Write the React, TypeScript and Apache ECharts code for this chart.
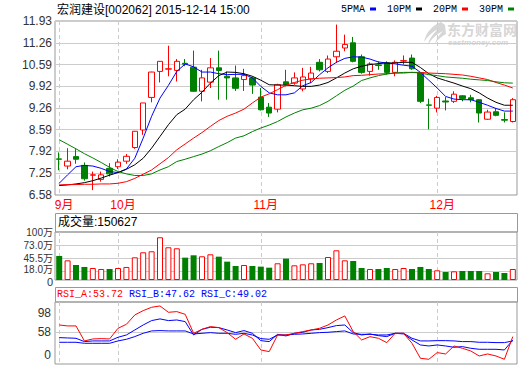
import React, { useEffect, useRef } from 'react';
import * as echarts from 'echarts';

const dates = [
  '2015-09-22', '2015-09-23', '2015-09-24', '2015-09-25', '2015-09-28', '2015-09-29', '2015-09-30',
  '2015-10-08', '2015-10-09', '2015-10-12', '2015-10-13', '2015-10-14', '2015-10-15', '2015-10-16',
  '2015-10-19', '2015-10-20', '2015-10-21', '2015-10-22', '2015-10-23', '2015-10-26', '2015-10-27',
  '2015-10-28', '2015-10-29', '2015-10-30',
  '2015-11-02', '2015-11-03', '2015-11-04', '2015-11-05', '2015-11-06', '2015-11-09', '2015-11-10',
  '2015-11-11', '2015-11-12', '2015-11-13', '2015-11-16', '2015-11-17', '2015-11-18', '2015-11-19',
  '2015-11-20', '2015-11-23', '2015-11-24', '2015-11-25', '2015-11-26', '2015-11-27', '2015-11-30',
  '2015-12-01', '2015-12-02', '2015-12-03', '2015-12-04', '2015-12-07', '2015-12-08', '2015-12-09',
  '2015-12-10', '2015-12-11', '2015-12-14',
];

const opens = [
  7.69, 7.47, 7.76, 7.49, 7.19, 7.06, 7.40, 7.45, 7.62, 8.04, 8.58, 9.58, 10.38, 10.45, 10.41,
  10.63, 10.51, 9.77, 10.05, 10.49, 10.23, 10.18, 10.13, 10.18, 9.59, 9.28, 9.22, 10.06, 10.02, 9.84,
  10.15, 10.66, 10.38, 10.83, 11.10, 11.26, 10.83, 10.38, 10.58, 10.64, 10.35, 10.70, 10.79, 10.33, 9.35,
  9.25, 9.47, 9.46, 9.63, 9.57, 9.51, 8.91, 9.14, 8.90, 8.84,
];
const closes = [
  7.68, 7.62, 7.68, 7.08, 7.20, 7.20, 7.23, 7.59, 7.77, 8.54, 9.41, 10.36, 10.69, 10.46, 10.69,
  10.60, 9.77, 10.18, 10.49, 10.41, 10.18, 9.86, 10.25, 9.96, 9.20, 9.10, 9.97, 9.97, 10.18, 10.21,
  10.33, 10.43, 10.76, 11.00, 11.21, 10.69, 10.35, 10.61, 10.56, 10.35, 10.66, 10.71, 10.46, 9.46, 9.34,
  9.58, 9.44, 9.68, 9.55, 9.51, 9.10, 9.13, 9.03, 8.88, 9.51,
];
const lows = [
  7.34, 7.37, 7.54, 7.02, 6.73, 6.99, 7.15, 7.38, 7.54, 8.00, 8.43, 9.43, 10.04, 10.23, 10.07,
  10.54, 9.76, 9.46, 9.87, 9.51, 9.51, 9.78, 9.78, 9.69, 9.18, 8.98, 9.12, 9.92, 9.97, 9.77,
  10.02, 10.38, 10.33, 10.64, 11.00, 10.66, 10.31, 10.25, 10.43, 10.28, 10.23, 10.59, 10.43, 9.41, 8.60,
  9.12, 9.18, 9.41, 9.46, 9.43, 8.81, 8.89, 9.00, 8.81, 8.81,
];
const highs = [
  7.89, 8.02, 7.99, 7.58, 7.30, 7.30, 7.56, 7.68, 7.84, 8.55, 9.41, 10.37, 10.70, 11.17, 10.76,
  10.76, 11.02, 10.43, 10.79, 11.02, 10.38, 10.56, 10.46, 10.23, 9.87, 9.41, 10.00, 10.43, 10.35, 10.49,
  10.52, 10.76, 10.87, 11.82, 11.51, 11.44, 10.90, 10.66, 10.69, 10.69, 10.72, 10.87, 10.90, 10.33, 9.54,
  9.63, 9.59, 9.77, 9.65, 9.66, 9.53, 9.20, 9.25, 9.12, 9.56,
];

// volume in 万
const volumes = [
  51.1, 41.8, 31.9, 27.7, 25.5, 23.4, 23.4, 25.5, 27.7, 48.2, 58.9, 61.0, 90.8, 69.5, 67.4,
  47.5, 52.5, 50.4, 54.6, 49.6, 39.0, 29.8, 31.9, 29.8, 28.4, 26.2, 35.5, 45.4, 31.2, 33.3,
  35.5, 36.2, 48.9, 63.1, 41.8, 40.4, 25.5, 23.4, 23.4, 25.5, 23.4, 25.5, 23.4, 27.7, 23.4,
  20.6, 17.0, 18.4, 19.1, 19.1, 19.1, 14.2, 17.0, 14.9, 23.4,
];

const ma5 = [
  6.94, 7.20, 7.45, 7.49, 7.47, 7.40, 7.30, 7.27, 7.38, 7.71, 8.33, 9.00, 9.56, 9.95, 10.38,
  10.61, 10.52, 10.36, 10.36, 10.31, 10.28, 10.29, 10.29, 10.18, 9.92, 9.72, 9.66, 9.66, 9.72, 9.94,
  10.04, 10.28, 10.49, 10.66, 10.78, 10.83, 10.82, 10.76, 10.67, 10.64, 10.61, 10.57, 10.54, 10.35, 10.11,
  9.87, 9.61, 9.53, 9.51, 9.51, 9.43, 9.34, 9.24, 9.16, 9.16,
];
const ma10 = [
  6.87, 6.89, 6.92, 6.96, 7.02, 7.10, 7.19, 7.27, 7.37, 7.51, 7.71, 8.02, 8.38, 8.74, 9.05,
  9.22, 9.51, 9.74, 10.02, 10.25, 10.36, 10.35, 10.31, 10.23, 10.11, 9.97, 9.96, 9.96, 9.94, 9.92,
  9.92, 9.96, 10.04, 10.18, 10.33, 10.46, 10.54, 10.59, 10.62, 10.64, 10.64, 10.66, 10.66, 10.50, 10.31,
  10.18, 10.10, 10.02, 9.93, 9.85, 9.72, 9.56, 9.43, 9.34, 9.34,
];
const ma20 = [
  6.89, 6.90, 6.90, 6.91, 6.91, 6.92, 6.92, 6.94, 6.99, 7.09, 7.22, 7.35, 7.54, 7.73, 7.97,
  8.15, 8.33, 8.50, 8.69, 8.87, 9.00, 9.10, 9.22, 9.41, 9.59, 9.69, 9.82, 9.95, 10.04, 10.11,
  10.15, 10.17, 10.18, 10.19, 10.21, 10.25, 10.26, 10.28, 10.30, 10.31, 10.33, 10.33, 10.35, 10.35, 10.33,
  10.32, 10.31, 10.29, 10.27, 10.23, 10.18, 10.13, 10.04, 9.96, 9.87,
];
const ma30 = [
  8.28, 8.14, 8.00, 7.85, 7.72, 7.58, 7.43, 7.30, 7.23, 7.18, 7.18, 7.23, 7.35, 7.45, 7.61,
  7.68, 7.76, 7.84, 7.94, 8.07, 8.19, 8.33, 8.40, 8.53, 8.64, 8.73, 8.84, 8.98, 9.10, 9.20,
  9.25, 9.33, 9.46, 9.63, 9.80, 9.93, 10.10, 10.18, 10.25, 10.30, 10.33, 10.35, 10.35, 10.33, 10.28,
  10.25, 10.21, 10.19, 10.17, 10.14, 10.12, 10.10, 10.06, 10.03, 10.02,
];

const rsiA = [
  73.2, 71.2, 71.2, 40.0, 44.1, 44.8, 44.1, 66.3, 74.6, 94.0, 103.1, 110.0, 112.8, 99.6, 101.0,
  95.4, 55.9, 64.2, 69.8, 67.7, 57.3, 43.4, 54.5, 45.5, 21.2, 17.8, 52.4, 52.4, 55.9, 59.4,
  62.8, 66.3, 73.2, 83.6, 92.0, 59.4, 42.0, 48.9, 45.5, 36.5, 55.9, 55.9, 35.1, 3.9, 1.8,
  15.7, 12.9, 29.5, 24.7, 19.1, 8.7, 12.9, 8.7, 1.8, 49.0,
];
const rsiB = [
  46.9, 46.2, 45.5, 38.6, 40.0, 40.0, 40.0, 47.6, 52.4, 62.8, 73.2, 82.3, 85.8, 82.3, 83.6,
  80.2, 52.4, 64.2, 68.4, 67.7, 62.8, 57.3, 61.5, 55.9, 40.6, 38.6, 53.8, 50.4, 55.9, 58.0,
  62.8, 64.2, 67.7, 71.9, 73.2, 57.3, 52.4, 54.5, 51.0, 49.0, 55.9, 54.5, 42.0, 31.6, 29.5,
  31.6, 29.5, 26.8, 28.2, 24.7, 22.6, 22.6, 22.6, 21.2, 42.0,
];
const rsiC = [
  37.2, 37.2, 37.2, 35.1, 35.1, 35.1, 35.1, 40.0, 43.4, 49.0, 55.9, 60.8, 61.5, 60.8, 60.8,
  60.8, 54.5, 55.9, 57.3, 55.9, 55.9, 53.8, 55.9, 52.4, 44.8, 43.4, 52.4, 52.4, 53.8, 54.5,
  55.9, 57.3, 58.0, 59.4, 60.8, 54.5, 53.8, 53.8, 52.4, 52.4, 55.9, 55.9, 45.5, 40.0, 40.0,
  40.6, 40.6, 40.0, 38.6, 38.6, 37.2, 37.2, 36.5, 36.5, 40.0,
];

const priceTicks = [6.58, 7.25, 7.92, 8.59, 9.26, 9.92, 10.59, 11.26, 11.93];
const volumeTicks = [18, 45.5, 73, 100];
const volumeZeroTick = [0];
const volumeGridTicks = [18, 45.5, 73];
const rsiTicks = [0, 58, 98];
const rsiGridTicks = [58];

const maNames = ['5PMA', '10PM', '20PM', '30PM'];
const maColors = ['#0000ff', '#000000', '#ff0000', '#008000'];
const maSeries = [ma5, ma10, ma20, ma30];

const titleText = '宏润建设[002062] 2015-12-14 15:00';
const volumeTitle = '成交量:150627';
const rsiTitles = ['RSI_A:53.72', 'RSI_B:47.62', 'RSI_C:49.02'];

const FONT = "'Liberation Sans', 'Noto Sans CJK SC', sans-serif";
const NARROW = "'Liberation Sans Narrow', 'Liberation Sans', 'Noto Sans CJK SC', sans-serif";
const MONO = "'Liberation Mono', 'DejaVu Sans Mono', monospace";
const RED = '#ff0000';
const GREEN = '#008000';
const FRAME = '#999999';
const GRIDLINE = '#cccccc';
const WATERMARK = '#d6d6d6';

const monthStarts = dates
  .map((d, i) => (i === 0 || d.slice(5, 7) !== dates[i - 1].slice(5, 7) ? i : -1))
  .filter((i) => i >= 0);

const GL = 55;
const GW = 462;
const VOL_MAX = 102;

// decorative swoosh of the watermark logo
echarts.graphic.registerShape(
  'emLogo',
  echarts.graphic.extendPath(
    'M18 0 C10 3 3 10 1 20 C5 14 9 10 15 7 C10 12 6 17 5 23 C9 16 14 12 20 9 C16 13 13 17 12 22 C15 17 19 14 23 12 L22 3 Z',
    {}
  ) as any
);

export default function App() {
  const ref = useRef<HTMLDivElement>(null);

  useEffect(() => {
    if (!ref.current) return;
    const chart = echarts.init(ref.current, null, { renderer: 'svg' });

    const isMonth = (idx: number) => monthStarts.includes(idx);
    const dashed = {
      show: true,
      interval: isMonth,
      alignWithLabel: true,
      lineStyle: { color: GRIDLINE, type: [4, 3] as any, width: 1 },
    };

    const xAxes = [0, 1, 2].map((g) => ({
      type: 'category',
      gridIndex: g,
      data: dates,
      boundaryGap: true,
      axisLine: { show: false },
      axisTick: { show: false },
      axisLabel:
        g === 0
          ? {
              show: true,
              interval: isMonth,
              formatter: (v: string) => `${parseInt(v.slice(5, 7), 10)}月`,
              color: RED,
              fontSize: 12,
              fontFamily: FONT,
              margin: 4,
              padding: [0, 0, 0, 10],
            }
          : { show: false },
      splitLine: dashed,
    }));

    const candleData = dates.map((_, i) => [opens[i], closes[i], lows[i], highs[i]]);
    const volData = volumes.map((v, i) => {
      const up = closes[i] >= opens[i];
      return {
        value: v,
        itemStyle: up
          ? { color: '#ffffff', borderColor: RED, borderWidth: 1 }
          : { color: GREEN, borderColor: GREEN, borderWidth: 0 },
      };
    });

    const volText = { color: '#333', fontSize: 10, fontFamily: NARROW };
    const volLabel = {
      ...volText,
      margin: 2,
      hideOverlap: false,
      showMinLabel: true,
      showMaxLabel: true,
    };

    const option: any = {
      animation: false,
      backgroundColor: '#ffffff',
      textStyle: { fontFamily: FONT },
      legend: {
        data: maNames,
        right: 6,
        top: 4,
        padding: 0,
        align: 'right',
        icon: 'rect',
        itemWidth: 6,
        itemHeight: 3,
        itemGap: 11,
        selectedMode: false,
        textStyle: { fontFamily: MONO, fontSize: 10, color: '#000' },
      },
      grid: [
        { left: GL, top: 21, width: GW, height: 174, show: true, borderColor: FRAME, borderWidth: 1 },
        { left: GL, top: 232, width: GW, height: 48, show: true, borderColor: FRAME, borderWidth: 1 },
        { left: GL, top: 302, width: GW, height: 62, show: true, borderColor: FRAME, borderWidth: 1 },
      ],
      xAxis: xAxes,
      yAxis: [
        {
          type: 'value',
          gridIndex: 0,
          min: 6.58,
          max: 11.93,
          axisLine: { show: false },
          axisTick: { show: false, customValues: priceTicks },
          axisLabel: {
            customValues: priceTicks,
            formatter: (v: number) => v.toFixed(2),
            color: '#333',
            fontSize: 12,
            fontFamily: FONT,
            margin: 3,
            hideOverlap: false,
            showMinLabel: true,
            showMaxLabel: true,
          },
          splitLine: { show: true, lineStyle: { color: GRIDLINE, width: 1 } },
        },
        {
          type: 'value',
          gridIndex: 1,
          min: 0,
          max: VOL_MAX,
          axisLine: { show: false },
          axisTick: { show: false, customValues: volumeGridTicks },
          axisLabel: {
            ...volLabel,
            customValues: volumeTicks,
            formatter: (v: number) =>
              v === 100 ? '100万' : v === 18 ? `{u|${v.toFixed(1)}万}` : `${v.toFixed(1)}万`,
            rich: { u: { ...volText, padding: [0, 0, 5, 0] } },
          },
          splitLine: { show: true, lineStyle: { color: GRIDLINE, width: 1 } },
        },
        {
          type: 'value',
          gridIndex: 2,
          min: -8,
          max: 121,
          axisLine: { show: false },
          axisTick: { show: false, customValues: rsiGridTicks },
          axisLabel: {
            customValues: rsiTicks,
            formatter: (v: number) => (v === 0 ? '{z|0}' : String(v)),
            rich: { z: { padding: [0, 0, 10, 0], fontSize: 12, color: '#333', fontFamily: FONT } },
            color: '#333',
            fontSize: 12,
            fontFamily: FONT,
            margin: 4,
            hideOverlap: false,
            showMinLabel: true,
            showMaxLabel: true,
          },
          splitLine: { show: true, lineStyle: { color: GRIDLINE, width: 1 } },
        },
        {
          // zero label of the volume panel, on its own so it is not culled
          type: 'value',
          gridIndex: 1,
          min: 0,
          max: VOL_MAX,
          position: 'left',
          axisLine: { show: false },
          axisTick: { show: false, customValues: volumeZeroTick },
          axisLabel: {
            ...volLabel,
            fontSize: 11,
            customValues: volumeZeroTick,
            formatter: () => '{d|0}',
            rich: { d: { ...volText, fontSize: 11, padding: [3, 0, 0, 0] } },
          },
          splitLine: { show: false },
        },
      ],
      series: [
        {
          type: 'candlestick',
          name: 'K',
          xAxisIndex: 0,
          yAxisIndex: 0,
          data: candleData,
          barWidth: 6,
          itemStyle: {
            color: '#ffffff',
            color0: GREEN,
            borderColor: RED,
            borderColor0: GREEN,
            borderWidth: 1,
          },
        },
        ...maSeries.map((d, k) => ({
          type: 'line',
          name: maNames[k],
          xAxisIndex: 0,
          yAxisIndex: 0,
          data: d,
          showSymbol: false,
          symbol: 'none',
          color: maColors[k],
          lineStyle: { color: maColors[k], width: 1 },
          itemStyle: { color: maColors[k] },
          z: 3,
        })),
        {
          type: 'bar',
          name: 'VOL',
          xAxisIndex: 1,
          yAxisIndex: 1,
          data: volData,
          barWidth: 6,
        },
        {
          type: 'line',
          name: 'RSI_C',
          xAxisIndex: 2,
          yAxisIndex: 2,
          data: rsiC,
          symbol: 'none',
          lineStyle: { color: '#0000ff', width: 1 },
        },
        {
          type: 'line',
          name: 'RSI_B',
          xAxisIndex: 2,
          yAxisIndex: 2,
          data: rsiB,
          symbol: 'none',
          lineStyle: { color: '#0000ff', width: 1 },
        },
        {
          type: 'line',
          name: 'RSI_A',
          xAxisIndex: 2,
          yAxisIndex: 2,
          data: rsiA,
          symbol: 'none',
          lineStyle: { color: RED, width: 1 },
        },
      ],
      graphic: [
        {
          type: 'text',
          left: 57,
          top: 4,
          style: { text: titleText, fill: '#000', font: `12px ${FONT}` },
        },
        {
          type: 'emLogo',
          x: 423,
          y: 22,
          z: -1,
          style: { fill: WATERMARK, stroke: 'none' },
        },
        {
          type: 'text',
          x: 447,
          y: 22,
          z: -1,
          style: {
            text: '东方财富网',
            fill: WATERMARK,
            font: `bold 14px 'Noto Sans CJK SC', sans-serif`,
            lineHeight: 14,
          },
        },
        {
          type: 'text',
          x: 448,
          y: 38,
          z: -1,
          style: { text: 'eastmoney.com', fill: WATERMARK, font: `italic bold 8px ${FONT}`, lineHeight: 8 },
        },
        {
          type: 'rect',
          shape: { x: GL + 0.5, y: 213.5, width: GW, height: 18.5 },
          style: { fill: 'none', stroke: FRAME, lineWidth: 1 },
        },
        {
          type: 'text',
          x: 58,
          y: 216,
          style: { text: volumeTitle, fill: '#000', font: `12px ${FONT}` },
        },
        {
          type: 'rect',
          shape: { x: GL + 0.5, y: 287.5, width: GW, height: 14.5 },
          style: { fill: 'none', stroke: FRAME, lineWidth: 1 },
        },
        {
          type: 'text',
          x: 57,
          y: 289,
          style: {
            text: `{a|${rsiTitles[0]}} {b|${rsiTitles[1]}} {b|${rsiTitles[2]}}`,
            font: `10px ${MONO}`,
            rich: {
              a: { fill: RED, font: `10px ${MONO}` },
              b: { fill: '#0000ff', font: `10px ${MONO}` },
            },
          },
        },
      ],
    };

    chart.setOption(option);
    return () => chart.dispose();
  }, []);

  return (
    <div
      ref={ref}
      style={{ position: 'fixed', left: 0, top: 0, width: 520, height: 365, background: '#fff' }}
    />
  );
}
